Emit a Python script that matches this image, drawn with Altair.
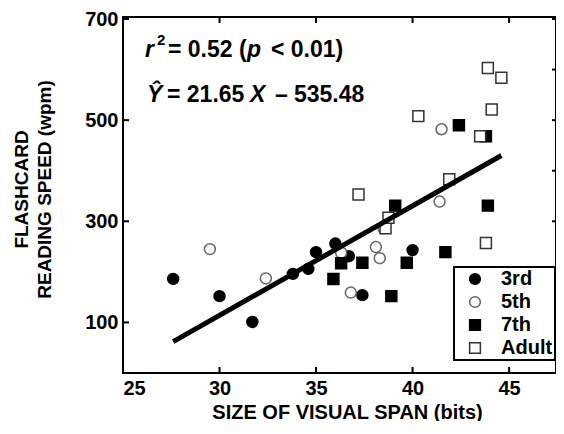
import altair as alt
import pandas as pd

# ---- data ----
groups = ["3rd", "5th", "7th", "Adult"]

third_x = [27.6, 30.0, 31.7, 33.8, 34.6, 35.0, 36.0, 36.7, 37.4, 40.0]
third_y = [186, 152, 101, 196, 206, 239, 256, 231, 154, 243]

fifth_x = [29.5, 32.4, 36.3, 36.8, 38.1, 38.3, 38.5, 41.4, 41.5]
fifth_y = [245, 187, 238, 159, 249, 227, 286, 339, 482]

seventh_x = [35.9, 36.3, 37.4, 38.9, 39.1, 39.7, 41.7, 42.4, 43.8, 43.9]
seventh_y = [186, 217, 218, 152, 331, 218, 239, 490, 468, 331]

adult_x = [37.2, 38.6, 38.75, 40.3, 41.9, 43.5, 43.8, 43.9, 44.1, 44.6]
adult_y = [353, 286, 307, 508, 383, 468, 257, 603, 521, 584]

slope, intercept = 21.65, -535.48

x_ticks = [25, 30, 35, 40, 45]
y_ticks = [100, 300, 500, 700]
right_ticks = [100, 200, 300, 400, 500, 600, 700]

rows = []
for g, xs, ys in zip(groups, [third_x, fifth_x, seventh_x, adult_x],
                     [third_y, fifth_y, seventh_y, adult_y]):
    for a, b in zip(xs, ys):
        rows.append({"group": g, "span": a, "speed": b})
df = pd.DataFrame(rows)

xmin, xmax = df["span"].min(), df["span"].max()
line_df = pd.DataFrame({"span": [xmin, xmax],
                        "speed": [slope * xmin + intercept, slope * xmax + intercept]})

W, H = 433, 356
FONT = "Liberation Sans"
xsc = alt.Scale(domain=[25, 47.43], nice=False, zero=False)
ysc = alt.Scale(domain=[0, 704], nice=False, zero=False)

legend = alt.Legend(title=None, orient="none", legendX=331, legendY=250,
                    strokeColor="black", padding=2, fillColor="white",
                    labelFont=FONT, labelFontSize=20, labelFontWeight="bold",
                    labelColor="black", labelOffset=16, symbolOffset=9,
                    rowPadding=3, symbolSize=115, symbolStrokeWidth=1.5)

points = alt.Chart(df).mark_point(filled=True, size=120, strokeWidth=1.5, opacity=1).encode(
    x=alt.X("span:Q", scale=xsc,
            axis=alt.Axis(values=x_ticks, title="SIZE OF VISUAL SPAN (bits)",
                          domain=False, ticks=False, grid=False,
                          labelFont=FONT, labelFontSize=20, labelFontWeight="bold",
                          labelColor="black", labelPadding=5, labelFlush=True,
                          titleFont=FONT, titleFontSize=20, titleFontWeight="bold",
                          titleColor="black", titleX=224, titleY=45,
                          titleBaseline="alphabetic")),
    y=alt.Y("speed:Q", scale=ysc,
            axis=alt.Axis(values=y_ticks, title=["FLASHCARD", "READING SPEED (wpm)"],
                          domain=False, ticks=False, grid=False,
                          labelFont=FONT, labelFontSize=20, labelFontWeight="bold",
                          labelColor="black", labelPadding=5, labelFlush=False,
                          titleFont=FONT, titleFontSize=19, titleFontWeight="bold",
                          titleColor="black", titleLineHeight=23,
                          titleAngle=270, titleX=-96, titleY=172,
                          titleAlign="center", titleBaseline="alphabetic")),
    shape=alt.Shape("group:N", scale=alt.Scale(domain=groups,
                    range=["circle", "circle", "square", "square"]), legend=legend),
    fill=alt.Fill("group:N", scale=alt.Scale(domain=groups,
                  range=["black", "white", "black", "white"]), legend=legend),
    stroke=alt.Stroke("group:N", scale=alt.Scale(domain=groups,
                      range=["black", "#666666", "black", "#333333"]), legend=legend),
)

reg = alt.Chart(line_df).mark_line(color="black", strokeWidth=5).encode(
    x=alt.X("span:Q", scale=xsc), y=alt.Y("speed:Q", scale=ysc))

xt = pd.DataFrame({"v": x_ticks[1:]})
yt = pd.DataFrame({"v": y_ticks})
rt = pd.DataFrame({"v": right_ticks})
tick_b = alt.Chart(xt).mark_rule(color="black", strokeWidth=2).encode(
    x=alt.X("v:Q", scale=xsc), y=alt.value(H), y2=alt.value(H - 6))
tick_t = alt.Chart(xt).mark_rule(color="black", strokeWidth=2).encode(
    x=alt.X("v:Q", scale=xsc), y=alt.value(0), y2=alt.value(6))
tick_l = alt.Chart(yt).mark_rule(color="black", strokeWidth=2).encode(
    y=alt.Y("v:Q", scale=ysc), x=alt.value(0), x2=alt.value(6))
tick_r = alt.Chart(rt).mark_rule(color="black", strokeWidth=2).encode(
    y=alt.Y("v:Q", scale=ysc), x=alt.value(W), x2=alt.value(W - 4))


def txt(s, x, y, size=23, style="normal"):
    return alt.Chart(pd.DataFrame({"t": [s]})).mark_text(
        align="left", baseline="alphabetic", font=FONT, fontSize=size,
        fontWeight="bold", fontStyle=style, color="black").encode(
        text="t:N", x=alt.value(x), y=alt.value(y))


annots = [
    txt("r", 22, 40, style="italic"),
    txt("2", 34, 28, size=15),
    txt("= 0.52 (", 45, 40),
    txt("p", 124, 40, style="italic"),
    txt("< 0.01)", 148, 40),
    txt("Ŷ", 24, 85, style="italic"),
    txt("= 21.65", 44, 85),
    txt("X", 127, 85, style="italic"),
    txt("–", 152, 85),
    txt("535.48", 171, 85),
]

chart = alt.layer(points, reg, tick_b, tick_t, tick_l, tick_r, *annots).properties(
    width=W, height=H,
    autosize=alt.AutoSizeParams(type="none"),
    padding={"left": 115, "top": 9, "right": 0, "bottom": 48},
    background="white",
).configure_view(stroke="black", strokeWidth=2).configure_legend(strokeWidth=2)

chart.save("out.html", embed_options={"renderer": "svg", "actions": False})
